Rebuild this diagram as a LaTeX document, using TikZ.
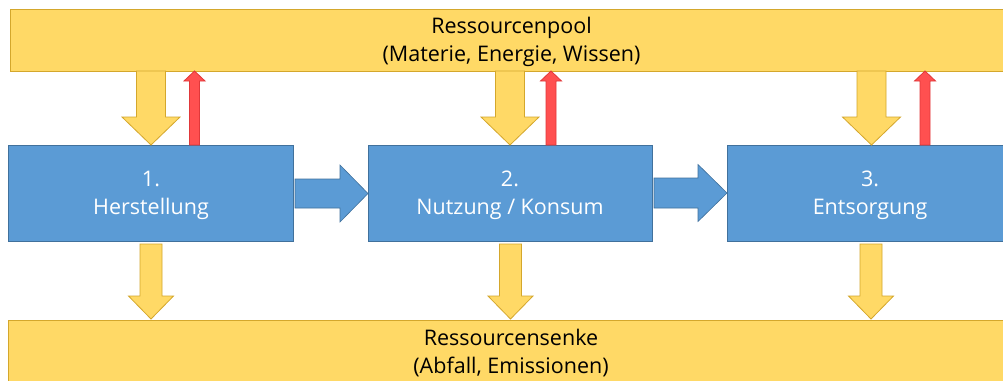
\documentclass[tikz,border=0pt]{standalone}
\usepackage{fontspec}
\setmainfont{Open Sans}
\definecolor{yfill}{HTML}{FFD966}
\definecolor{ydraw}{HTML}{D4A72C}
\definecolor{bfill}{HTML}{5B9BD5}
\definecolor{bdraw}{HTML}{41719C}
\definecolor{rfill}{HTML}{FF5050}
\definecolor{rdraw}{HTML}{E0383A}
\newcommand{\myvarr}[7]{\draw[#7] (#1-#5,#2) -- (#1+#5,#2) -- (#1+#5,#3) -- (#1+#6,#3) -- (#1,#4) -- (#1-#6,#3) -- (#1-#5,#3) -- cycle;}
\newcommand{\myharr}[7]{\draw[#7] (#2,#1-#5) -- (#2,#1+#5) -- (#3,#1+#5) -- (#3,#1+#6) -- (#4,#1) -- (#3,#1-#6) -- (#3,#1-#5) -- cycle;}
\begin{document}
\begin{tikzpicture}[x=1pt,y=-1pt,
  poolbox/.style={fill=yfill,draw=ydraw,line width=1pt},
  stagebox/.style={fill=bfill,draw=bdraw,line width=0.8pt},
  yarrow/.style={fill=yfill,draw=ydraw,line width=0.8pt,line join=miter},
  rarrow/.style={fill=rfill,draw=rdraw,line width=0.8pt,line join=miter},
  barrow/.style={fill=bfill,draw=bdraw,line width=0.6pt,line join=miter},
  label/.style={align=center,font=\fontsize{21.5}{28}\selectfont},
  wlabel/.style={label,text=white}]
\useasboundingbox (0,0) rectangle (1003,380);
\clip (0,0) rectangle (1003,380);
\fill[white] (0,0) rectangle (1003,380);
% pools
\draw[poolbox] (10,9) rectangle (1013,71);
\node[label] (pool) at (511.5,42) {Ressourcenpool\\(Materie, Energie, Wissen)};
\draw[poolbox] (8,320) rectangle (1014,400);
\node[label] (sink) at (511,353) {Ressourcensenke\\(Abfall, Emissionen)};
% stages
\draw[stagebox] (8,145) rectangle (293,241);
\node[wlabel] (s1) at (151,195.5) {1.\\Herstellung};
\draw[stagebox] (368,145) rectangle (652,241);
\node[wlabel] (s2) at (510,195.5) {2.\\Nutzung / Konsum};
\draw[stagebox] (727,145) rectangle (1013,241);
\node[wlabel] (s3) at (870,195.5) {3.\\Entsorgung};
% top yellow down arrows
\myvarr{151}{71}{117}{145}{14.5}{29}{yarrow}
\myvarr{510}{71}{117}{145}{14.5}{29}{yarrow}
\myvarr{871.5}{71}{117}{145}{14.5}{29}{yarrow}
% red up arrows
\myvarr{194.5}{145}{81}{71}{5}{10.5}{rarrow}
\myvarr{551}{145}{81}{71}{5}{10.5}{rarrow}
\myvarr{925}{145}{81}{71}{5}{10.5}{rarrow}
% bottom yellow down arrows
\myvarr{151}{244}{296}{319}{11}{22.5}{yarrow}
\myvarr{510.5}{244}{296}{319}{11}{22.5}{yarrow}
\myvarr{871}{244}{296}{319}{11}{22.5}{yarrow}
% horizontal blue arrows
\myharr{193.5}{295}{340}{368}{14.5}{28.5}{barrow}
\myharr{193}{654}{698}{727}{15}{28.5}{barrow}
\end{tikzpicture}
\end{document}
